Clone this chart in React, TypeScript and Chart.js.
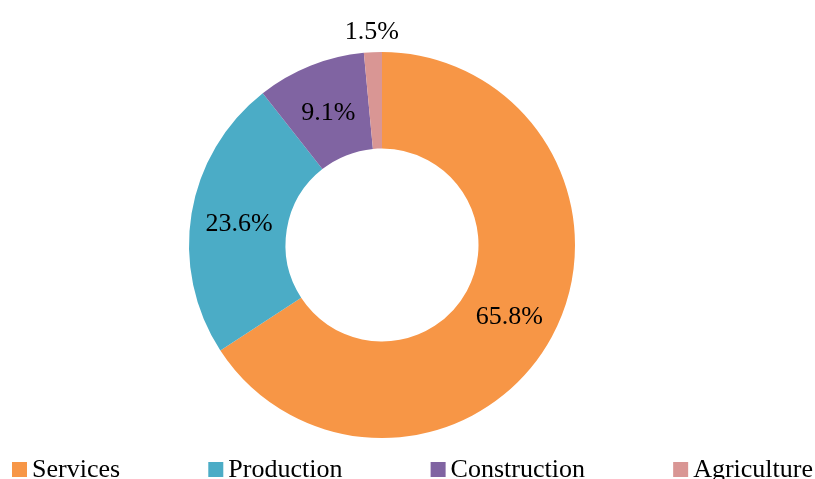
import React, { useEffect, useRef } from "react";
import { Chart, registerables } from "chart.js";

Chart.register(...registerables);

const categories = ["Services", "Production", "Construction", "Agriculture"];
const shares = [65.8, 23.6, 9.1, 1.5];
const valueLabels = ["65.8%", "23.6%", "9.1%", "1.5%"];
const colors = ["#F79646", "#4BACC6", "#8064A2", "#D99694"];

const FONT = '"Liberation Serif", "Times New Roman", serif';

const labelPlugin = {
  id: "sliceLabels",
  afterDatasetsDraw(chart: any) {
    const ctx = chart.ctx;
    const meta = chart.getDatasetMeta(0);
    ctx.save();
    ctx.font = `26px ${FONT}`;
    ctx.fillStyle = "#000";
    ctx.textAlign = "center";
    ctx.textBaseline = "middle";
    meta.data.forEach((arc: any, i: number) => {
      const p = arc.getProps(["x", "y", "startAngle", "endAngle", "innerRadius", "outerRadius"], true);
      const mid = (p.startAngle + p.endAngle) / 2;
      const small = shares[i] < 3;
      const r = small ? p.outerRadius + 23 : (p.innerRadius + p.outerRadius) / 2;
      const x = p.x + Math.cos(mid) * r;
      const y = p.y + Math.sin(mid) * r + 3;
      ctx.fillText(valueLabels[i], x, y);
    });
    ctx.restore();
  },
};

const legendPlugin = {
  id: "bottomLegend",
  afterDraw(chart: any) {
    const ctx = chart.ctx;
    ctx.save();
    ctx.font = `26px ${FONT}`;
    const box = 15;
    const pad = 5;
    const widths = categories.map((c) => box + pad + ctx.measureText(c).width);
    const left = 12;
    const right = 813;
    const total = widths.reduce((a, b) => a + b, 0);
    const gap = (right - left - total) / (categories.length - 1);
    let x = left;
    const baseline = 477;
    categories.forEach((c, i) => {
      ctx.fillStyle = colors[i];
      ctx.fillRect(x, baseline - box, box, box);
      ctx.fillStyle = "#000";
      ctx.textAlign = "left";
      ctx.textBaseline = "alphabetic";
      ctx.fillText(c, x + box + pad, baseline);
      x += widths[i] + gap;
    });
    ctx.restore();
  },
};

export default function App() {
  const ref = useRef<HTMLCanvasElement>(null);
  useEffect(() => {
    if (!ref.current) return;
    const chart = new Chart(ref.current, {
      type: "doughnut",
      data: {
        labels: categories,
        datasets: [
          {
            data: shares,
            backgroundColor: colors,
            borderWidth: 0,
          },
        ],
      },
      options: {
        responsive: false,
        animation: false,
        cutout: "50%",
        layout: { padding: { left: 189, right: 240, top: 52, bottom: 41 } },
        plugins: {
          legend: { display: false },
          tooltip: { enabled: false },
        },
      },
      plugins: [labelPlugin, legendPlugin],
    });
    return () => chart.destroy();
  }, []);
  return (
    <div style={{ position: "absolute", left: 0, top: 0, width: 815, height: 479, background: "#fff" }}>
      <canvas ref={ref} width={815} height={479} style={{ display: "block" }} />
    </div>
  );
}
